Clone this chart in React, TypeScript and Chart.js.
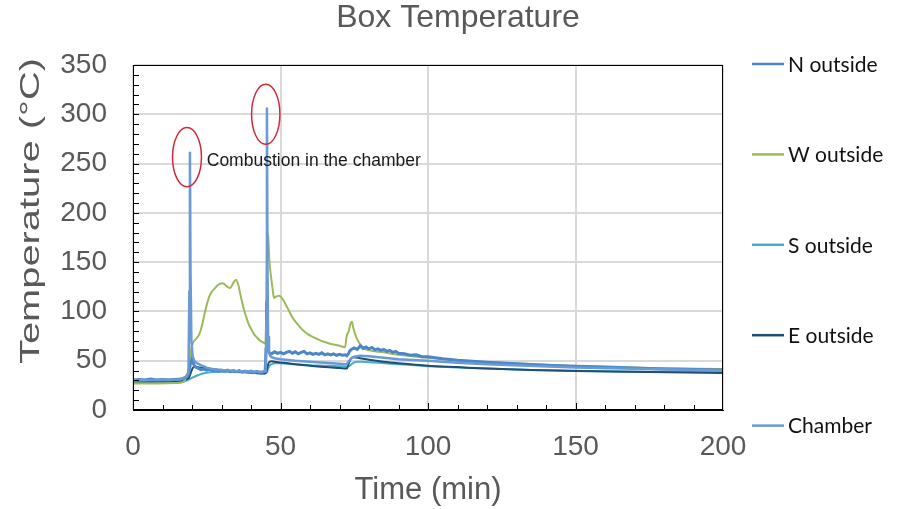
import React, { useEffect, useRef } from 'react';
import { Chart, registerables } from 'chart.js';

Chart.register(...registerables);

const FONT = "'Liberation Sans', Arial, sans-serif";
const LEGEND_FONT = "Lato, 'Open Sans', sans-serif";

const chartTitle = 'Box Temperature';
const xTitle = 'Time (min)';
const yTitle = 'Temperature (°C)';
const xTicks = [0, 50, 100, 150, 200];
const yTicks = [0, 50, 100, 150, 200, 250, 300, 350];

const seriesNames = ['N outside', 'W outside', 'S outside', 'E outside', 'Chamber'];
const seriesColors = ['#4A86C8', '#9BBB59', '#4BACC6', '#1F4E79', '#6A9AD4'];

// N outside (noisy band)
const nTime = [
  0, 2, 4, 6, 8, 10, 12, 14, 16,
  17, 18, 18.8, 19.4, 20, 20.5, 21, 22, 23,
  24, 25, 26, 27, 28, 29, 30, 31, 32, 33, 34, 35, 36, 37, 38, 39, 40, 41, 42, 43, 44,
  44.8, 45.1, 45.3, 45.5, 45.8, 46.2,
  47, 48, 49, 50, 51, 52, 53, 54, 55, 56, 57, 58, 59, 60, 61, 62, 63, 64, 65, 66, 67, 68, 69, 70, 71, 72,
  72.5, 73, 73.5, 74,
  75, 76, 77, 78, 79, 80, 81, 82, 83, 84, 85, 86, 87, 88, 89, 90,
  92, 94, 96, 98, 100, 105, 110, 115, 120, 130, 140, 150, 160, 170, 180, 190, 200,
];
const nTemp = [
  30.5, 31, 30.5, 31.5, 30.5, 31, 30.5, 31, 31.5,
  32, 33.5, 36, 46, 52, 47, 44, 42.5, 41,
  41.5, 40.5, 41.5, 40, 41, 39.5, 40.5, 39.5, 40.5, 39, 40, 39, 40, 38.5, 39.5, 38.5, 39.5, 38, 39, 38, 38.5,
  39, 62, 110, 82, 62, 58,
  57, 59, 57.5, 58.5, 57, 58.5, 59.5, 57.5, 59, 57, 58.5, 59.5, 57, 58, 56.5, 57.5, 56.5, 58, 56, 57, 56, 57, 55.5, 56.5, 55.5, 56,
  55, 57, 60, 61.5,
  63, 61.5, 65, 62.5, 64, 62, 63.5, 61, 62, 60.5, 61.5, 59.5, 60.5, 58.5, 59.5, 57.5,
  57, 55.5, 56, 54, 54, 52, 50.5, 49.5, 48.5, 47, 45.5, 44.5, 43.5, 42.5, 41.5, 41, 40.5,
];

// W outside
const wTime = [
  0, 8, 15, 16.5, 17.6, 18.8, 19.6, 20.4, 21.6, 22.5,
  23.3, 24, 24.7, 25.4, 26.1, 27, 27.8, 28.7, 29.5, 30.4,
  31.2, 32, 32.9, 33.5, 34, 34.9, 35.7, 36.2, 36.8, 37.6,
  38.5, 39.3, 40.2, 41, 41.9, 43, 44.2, 44.9, 45.2, 45.5,
  45.8, 46.2, 46.6, 47, 47.4, 47.8, 48.2, 48.7, 49.6, 50.7,
  51.4, 52.1, 53, 53.8, 54.6, 55.5, 56.6, 57.7, 59, 60.6,
  62.5, 64.5, 66.5, 68.5, 70.2, 71.9, 72.4, 73.1, 73.8, 74.2,
  74.7, 75.3, 75.8, 76.6, 77.5, 78.5, 80, 85, 90, 100,
  110, 120, 135, 150, 175, 200,
];
const wTemp = [
  27, 27, 27.5, 28, 30.5, 40.7, 60, 68.5, 72.8, 77,
  84.7, 94, 103.3, 111, 116.9, 121, 123.7, 126.5, 128.1, 128.5,
  127.1, 125, 123.7, 126, 128.8, 132.2, 127.1, 120, 111.9, 102,
  93.2, 86.5, 81.4, 77, 73.9, 70.5, 68.5, 67.1, 110, 176,
  179, 152.6, 140, 130.5, 121, 113.6, 114.5, 115.3, 116, 112.6,
  109, 105.1, 100, 95, 91.5, 88.2, 84, 80.7, 77.5, 74.6,
  72, 69.5, 67.5, 66.1, 65, 63.7, 74.6, 79.7, 88.2, 89.5,
  83.1, 77, 72.9, 68.5, 65.1, 62, 60.5, 58.5, 56, 53,
  50.5, 48.5, 46.5, 44.5, 42.5, 41.5,
];

// S outside
const sTime = [
  0, 8, 16, 17, 18, 19, 20, 21, 22, 23,
  24, 25, 27, 30, 35, 40, 44.5, 45.2, 45.6, 46,
  46.5, 47, 48, 50, 55, 60, 65, 70, 72.5, 73,
  73.5, 74, 74.5, 75, 76, 78, 80, 85, 90, 100,
  110, 120, 135, 150, 175, 200,
];
const sTemp = [
  27.5, 27.5, 28, 28.5, 29.5, 31, 32.5, 34, 35.3, 36.3,
  37.2, 37.8, 38.5, 38.8, 38.5, 37.8, 37, 37.5, 40, 43.5,
  45.5, 46.5, 47.5, 47.3, 46.3, 45.5, 45, 44.5, 44, 44.3,
  45, 46.3, 47.3, 48.3, 49, 49, 48.5, 47.5, 46.5, 44.5,
  43, 42, 40.5, 39.8, 38.8, 38.3,
];

// E outside
const eTime = [
  0, 8, 16, 17, 18, 19, 19.5, 20, 20.5, 21,
  22, 24, 26, 28, 30, 35, 40, 44.5, 45.2, 45.6,
  46, 47, 48, 50, 55, 60, 65, 70, 72.5, 73,
  73.5, 74, 75, 77, 80, 85, 90, 100, 110, 120,
  135, 150, 175, 200,
];
const eTemp = [
  29, 29, 29.5, 30, 31, 33, 37, 41, 43.5, 44,
  43.5, 42.5, 41.5, 40.8, 40.2, 39, 38, 37, 38.5, 44,
  48, 49.5, 49, 48.3, 46.5, 45, 43.5, 42.5, 42, 46,
  50, 52.5, 53.5, 52.5, 51, 49, 47.5, 45, 43.5, 42,
  40.5, 39.5, 38.5, 37.5,
];

// Chamber (combustion spikes)
const cTime = [
  0, 8, 16, 17, 18, 18.8, 19.1, 19.3, 19.5, 19.8,
  20.2, 20.6, 21, 22, 23, 25, 27, 30, 35, 40,
  44, 45, 45.2, 45.4, 45.6, 45.8, 46.1, 46.5, 47, 48,
  50, 55, 60, 65, 70, 72, 72.5, 73, 74, 75,
  77, 80, 85, 90, 100, 110, 120, 150, 175, 200,
];
const cTemp = [
  30, 30.5, 31, 32, 34, 38, 120, 262, 140, 70,
  55, 51, 49, 47, 45.5, 43, 41.5, 40.5, 39.5, 39,
  38.5, 39.5, 90, 307, 140, 75, 58, 55, 53.5, 52.5,
  51.5, 50, 49, 48, 47, 46.5, 46.5, 49, 52.5, 54,
  55, 54.5, 53, 51.5, 50, 48, 46.5, 43, 41.5, 40,
];

const noteText = 'Combustion in the chamber';
const notePos = { t: 25.0, v: 252.6 };
const ellipses = [
  { t: 18.3, v: 256.5, rt: 4.9, rv: 30 },
  { t: 45.0, v: 300, rt: 4.8, rv: 30.5 },
];

const series = [
  { times: nTime, temps: nTemp, width: 3, order: 1, smooth: false },
  { times: wTime, temps: wTemp, width: 2, order: 2, smooth: true },
  { times: sTime, temps: sTemp, width: 2, order: 4, smooth: true },
  { times: eTime, temps: eTemp, width: 2, order: 3, smooth: true },
  { times: cTime, temps: cTemp, width: 2.5, order: 0, smooth: false },
];

const decorPlugin = {
  id: 'decor',
  afterDatasetsDraw(chart: any) {
    const { ctx, chartArea: a, scales } = chart;
    const x = scales.x;
    const y = scales.y;
    ctx.save();
    // frame
    ctx.strokeStyle = '#000';
    ctx.lineWidth = 1;
    ctx.strokeRect(a.left + 0.5, a.top + 0.5, a.right - a.left - 1, a.bottom - a.top - 1);
    // inside minor ticks
    ctx.beginPath();
    for (let v = 10; v < 350; v += 10) {
      const py = Math.round(y.getPixelForValue(v)) + 0.5;
      ctx.moveTo(a.left, py);
      ctx.lineTo(a.left + 6, py);
    }
    for (let t = 10; t < 200; t += 10) {
      const px = Math.round(x.getPixelForValue(t)) + 0.5;
      const len = t % 50 === 0 ? 7 : 5;
      ctx.moveTo(px, a.bottom);
      ctx.lineTo(px, a.bottom - len);
    }
    ctx.stroke();

    // ellipses
    ctx.strokeStyle = '#D02A36';
    ctx.lineWidth = 1.5;
    ellipses.forEach((e) => {
      const cx = x.getPixelForValue(e.t);
      const cy = y.getPixelForValue(e.v);
      const rx = Math.abs(x.getPixelForValue(e.t + e.rt) - cx);
      const ry = Math.abs(y.getPixelForValue(e.v + e.rv) - cy);
      ctx.beginPath();
      ctx.ellipse(cx, cy, rx, ry, 0, 0, Math.PI * 2);
      ctx.stroke();
    });

    // note
    ctx.fillStyle = '#1A1A1A';
    ctx.font = `17.5px ${FONT}`;
    ctx.textAlign = 'left';
    ctx.textBaseline = 'middle';
    ctx.fillText(noteText, x.getPixelForValue(notePos.t), y.getPixelForValue(notePos.v));
    ctx.restore();
  },
  afterDraw(chart: any) {
    const { ctx, chartArea: a } = chart;
    ctx.save();
    // title
    ctx.fillStyle = '#595959';
    ctx.font = `32px ${FONT}`;
    ctx.textAlign = 'center';
    ctx.textBaseline = 'middle';
    ctx.fillText(chartTitle, 458, 18);

    // y title, stretched along its length
    ctx.save();
    ctx.translate(31, 211);
    ctx.rotate(-Math.PI / 2);
    ctx.font = `28px ${FONT}`;
    const w = ctx.measureText(yTitle).width;
    ctx.scale(306 / w, 1);
    ctx.fillText(yTitle, 0, 0);
    ctx.restore();

    // legend
    const lx = a.right + 29;
    ctx.font = `21px ${LEGEND_FONT}`;
    ctx.textAlign = 'left';
    ctx.textBaseline = 'middle';
    seriesNames.forEach((name, i) => {
      const ly = 64 + i * 90.4;
      ctx.strokeStyle = seriesColors[i];
      ctx.lineWidth = 2.5;
      ctx.beginPath();
      ctx.moveTo(lx, ly);
      ctx.lineTo(lx + 32, ly);
      ctx.stroke();
      ctx.fillStyle = '#111';
      ctx.fillText(name, lx + 36, ly + 1);
    });
    ctx.restore();
  },
};

export default function App() {
  const ref = useRef<HTMLCanvasElement | null>(null);

  useEffect(() => {
    document.body.style.margin = '0';
    const canvas = ref.current;
    if (!canvas) return;
    const datasets = series.map((s, i) => ({
      label: seriesNames[i],
      data: s.times.map((t, j) => ({ x: t, y: s.temps[j] })),
      borderColor: seriesColors[i],
      backgroundColor: seriesColors[i],
      borderWidth: s.width,
      pointRadius: 0,
      fill: false,
      order: s.order,
      cubicInterpolationMode: s.smooth ? 'monotone' : 'default',
      tension: 0,
    }));
    const chart = new Chart(canvas, {
      type: 'line',
      data: { datasets } as any,
      options: {
        animation: false,
        responsive: false,
        devicePixelRatio: 1,
        layout: { padding: { left: 0, right: 176, top: 65, bottom: 0 } },
        plugins: {
          legend: { display: false },
          tooltip: { enabled: false },
          title: { display: false },
        },
        scales: {
          x: {
            type: 'linear',
            min: xTicks[0],
            max: xTicks[xTicks.length - 1],
            afterBuildTicks: (s: any) => { s.ticks = xTicks.map((v) => ({ value: v })); },
            ticks: { color: '#595959', font: { family: FONT, size: 28 }, padding: 20, maxRotation: 0 },
            grid: { color: '#D9D9D9', lineWidth: 2, drawTicks: false },
            border: { display: true, color: '#000', width: 1 },
            title: {
              display: true,
              text: xTitle,
              color: '#595959',
              font: { family: FONT, size: 31 },
              padding: { top: 0, bottom: 0 },
            },
            afterFit: (s: any) => { s.height = 99; },
          },
          y: {
            type: 'linear',
            min: yTicks[0],
            max: yTicks[yTicks.length - 1],
            afterBuildTicks: (s: any) => { s.ticks = yTicks.map((v) => ({ value: v })); },
            ticks: { color: '#595959', font: { family: FONT, size: 28 }, padding: 26 },
            grid: { color: '#D9D9D9', lineWidth: 2, drawTicks: false },
            border: { display: true, color: '#000', width: 1 },
            afterFit: (s: any) => { s.width = 133; },
          },
        },
      } as any,
      plugins: [decorPlugin],
    });
    return () => chart.destroy();
  }, []);

  return (
    <div style={{ width: 899, height: 509, position: 'relative', background: '#fff' }}>
      <canvas ref={ref} width={899} height={509} style={{ display: 'block' }} />
    </div>
  );
}
